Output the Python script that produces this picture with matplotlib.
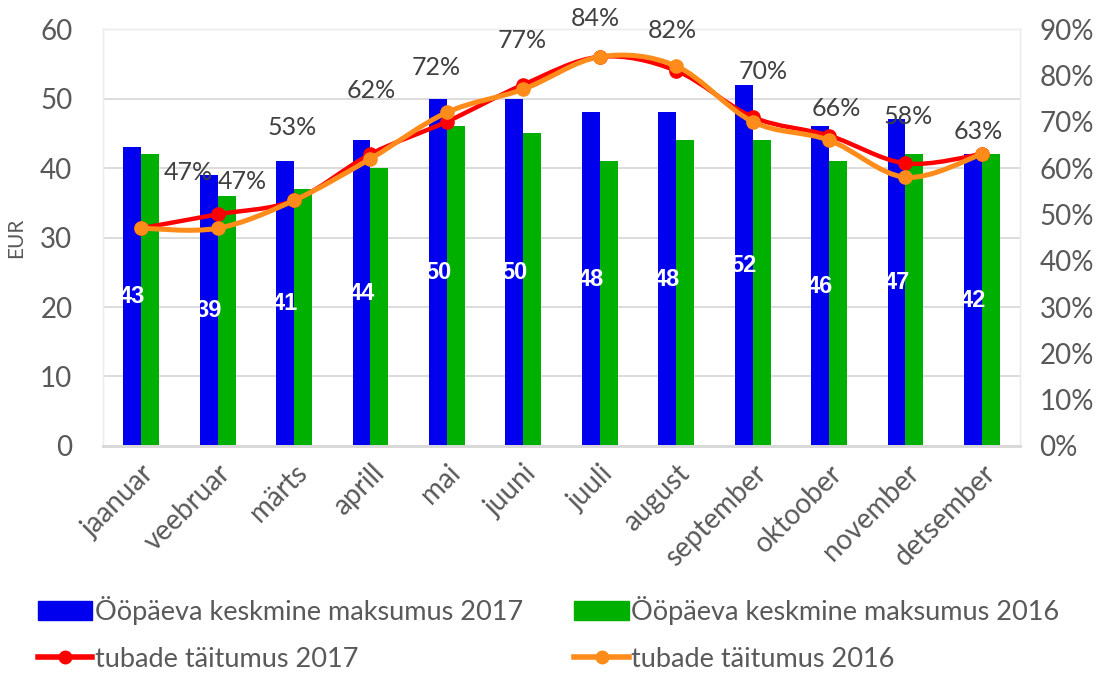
import numpy as np
import matplotlib.pyplot as plt
from matplotlib.path import Path
from matplotlib.patches import PathPatch, Patch
from matplotlib.lines import Line2D

plt.rcParams['font.family'] = ['Lato', 'DejaVu Sans']

months = ["jaanuar", "veebruar", "märts", "aprill", "mai", "juuni",
          "juuli", "august", "september", "oktoober", "november", "detsember"]
cost_2017 = [43, 39, 41, 44, 50, 50, 48, 48, 52, 46, 47, 42]
cost_2016 = [42, 36, 37, 40, 46, 45, 41, 44, 44, 41, 42, 42]
occ_2017 = [47, 50, 53, 63, 70, 78, 84, 81, 71, 67, 61, 63]
occ_2016 = [47, 47, 53, 62, 72, 77, 84, 82, 70, 66, 58, 63]

# hand-placed label offsets (pixels) for the 2016 occupancy labels
pct_offsets = [(47, 56), (25, 47), (-2, 73), (1, 68), (-11, 45), (-1, 49),
               (-4, 38), (-4, 36), (11, 50), (7, 32), (3, 61), (-4, 23)]

BLUE = "#0000ee"
GREEN = "#00b000"
RED = "#ff0000"
ORANGE = "#ff8c1a"
GRID = "#d9d9d9"
TXT = "#595959"


def smooth_path(xs, ys):
    pts = np.column_stack([xs, ys]).astype(float)
    ext = np.vstack([pts[0], pts, pts[-1]])
    verts = [pts[0]]
    codes = [Path.MOVETO]
    for i in range(len(pts) - 1):
        p0, p1, p2, p3 = ext[i], ext[i + 1], ext[i + 2], ext[i + 3]
        verts += [p1 + (p2 - p0) / 6, p2 - (p3 - p1) / 6, p2]
        codes += [Path.CURVE4] * 3
    return Path(verts, codes)


fig = plt.figure(figsize=(11.05, 6.73), dpi=100)
ax = fig.add_axes([0.0932, 0.3373, 0.830, 0.6196])
ax2 = ax.twinx()

x = np.arange(len(months))
w = 0.235
ax.bar(x - w / 2, cost_2017, w, color=BLUE, zorder=2)
ax.bar(x + w / 2, cost_2016, w, color=GREEN, zorder=2)
for i, v in enumerate(cost_2017):
    ax.text(i - w / 2, v / 2, str(v), color="white", fontweight="bold",
            family=["Liberation Sans", "DejaVu Sans"],
            ha="center", va="center", fontsize=17, zorder=3)

ax.set_xlim(-0.5, len(months) - 0.5)
ax.set_ylim(0, 60)
ax.set_yticks(range(0, 61, 10))
ax.yaxis.grid(True, color=GRID, lw=1.3)
ax.set_axisbelow(True)
ax.set_xticks(x)
ax.set_xticklabels(months, rotation=45, ha="right", rotation_mode="anchor")
ax.tick_params(axis="x", length=0, pad=10, labelsize=20, labelcolor=TXT)
ax.tick_params(axis="y", length=0, pad=22, labelsize=20, labelcolor=TXT)
ax.set_ylabel("EUR", fontsize=15, color=TXT, labelpad=10)

for a in (ax, ax2):
    for s in ("top", "right", "left"):
        a.spines[s].set_color("#ececec")
        a.spines[s].set_linewidth(1)
    a.spines["bottom"].set_color(GRID)
    a.spines["bottom"].set_linewidth(2)

for ys, col, lw, z in ((occ_2017, RED, 3.2, 3), (occ_2016, ORANGE, 3.6, 4)):
    ax2.add_patch(PathPatch(smooth_path(x, ys), fill=False, edgecolor=col,
                            lw=lw, zorder=z, capstyle="round"))
    ax2.plot(x, ys, "o", color=col, markersize=9.5, zorder=z)

for i, (v, off) in enumerate(zip(occ_2016, pct_offsets)):
    ax2.annotate(f"{v}%", (i, v), xytext=off, textcoords="offset pixels",
                 ha="center", va="center", fontsize=18, color="#404040",
                 annotation_clip=False)

ax2.set_ylim(0, 90)
ax2.set_yticks(range(0, 91, 10))
ax2.set_yticklabels([f"{t}%" for t in range(0, 91, 10)])
ax2.tick_params(axis="y", length=0, pad=14, labelsize=20, labelcolor=TXT)

# column-major order: left column = 2017 items, right column = 2016 items
handles = [
    Patch(color=BLUE),
    Line2D([], [], color=RED, lw=4, marker="o", markersize=9),
    Patch(color=GREEN),
    Line2D([], [], color=ORANGE, lw=4, marker="o", markersize=9),
]
labels = ["Ööpäeva keskmine maksumus 2017", "tubade täitumus 2017",
          "Ööpäeva keskmine maksumus 2016", "tubade täitumus 2016"]
leg = fig.legend(handles, labels, ncol=2, loc="lower left",
                 bbox_to_anchor=(0.022, -0.018), frameon=False, fontsize=19.5,
                 handlelength=2.0, handletextpad=0.1, columnspacing=1.9,
                 labelspacing=0.8, borderpad=0)
for t in leg.get_texts():
    t.set_color(TXT)

fig.savefig("out.png", dpi=100)
